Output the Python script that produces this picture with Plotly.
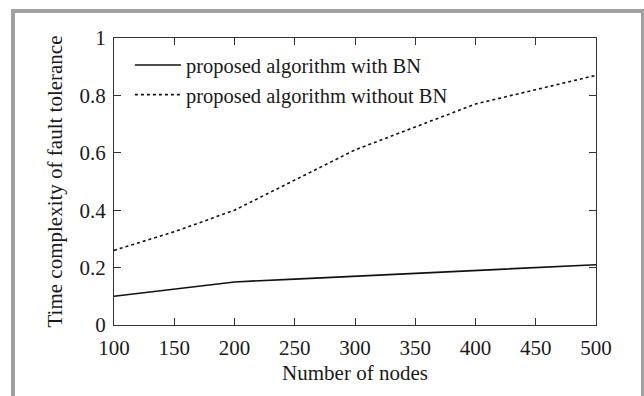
import plotly.graph_objects as go

nodes = [100, 150, 200, 250, 300, 350, 400, 450, 500]
with_bn = [0.10, 0.125, 0.15, 0.16, 0.17, 0.18, 0.19, 0.20, 0.21]
without_bn = [0.26, 0.325, 0.40, 0.505, 0.61, 0.69, 0.77, 0.82, 0.87]
x_ticks = [100, 150, 200, 250, 300, 350, 400, 450, 500]
y_ticks = [0, 0.2, 0.4, 0.6, 0.8, 1]
y_tick_text = ["0", "0.2", "0.4", "0.6", "0.8", "1"]

FONT = "Liberation Serif, Times New Roman, serif"
INK = "#1a1a1a"

fig = go.Figure()
fig.add_trace(go.Scatter(x=nodes, y=with_bn, mode="lines",
                         name="proposed algorithm with BN",
                         line=dict(color="#111111", width=1.6)))
fig.add_trace(go.Scatter(x=nodes, y=without_bn, mode="lines",
                         name="proposed algorithm without BN",
                         line=dict(color="#111111", width=1.6, dash="dot")))

axis_common = dict(showline=True, linecolor="#333333", linewidth=1.3, mirror="ticks",
                   ticks="inside", ticklen=7, tickwidth=1.3, tickcolor="#333333",
                   showgrid=False, zeroline=False,
                   tickfont=dict(family=FONT, size=21, color=INK))

fig.update_layout(
    width=644, height=396,
    margin=dict(l=114, r=48, t=38, b=71),
    paper_bgcolor="white", plot_bgcolor="white",
    font=dict(family=FONT, color=INK),
    showlegend=True,
    legend=dict(x=0.033, y=0.975, xanchor="left", yanchor="top",
                bgcolor="rgba(0,0,0,0)", font=dict(family=FONT, size=20.5, color=INK),
                tracegroupgap=0, itemwidth=46),
    xaxis=dict(range=[100, 500], tickvals=x_ticks, ticklabelstandoff=4,
               title=dict(text="Number of nodes", font=dict(family=FONT, size=21, color=INK), standoff=5),
               **axis_common),
    yaxis=dict(range=[0, 1], tickvals=y_ticks, ticktext=y_tick_text, ticklabelstandoff=3,
               title=dict(text="Time complexity of fault tolerance", font=dict(family=FONT, size=21, color=INK), standoff=11),
               **axis_common),
)

# gray frame around the figure
x0p = (13 - 114) / 482
x1p = (643 - 114) / 482
y1p = (325 - 11) / 287
y0p = (325 - 420) / 287
fig.add_shape(type="rect", xref="paper", yref="paper", x0=x0p, x1=x1p, y0=y0p, y1=y1p,
              line=dict(color="#a0a0a0", width=4), layer="below")

fig.write_html("out.html")
